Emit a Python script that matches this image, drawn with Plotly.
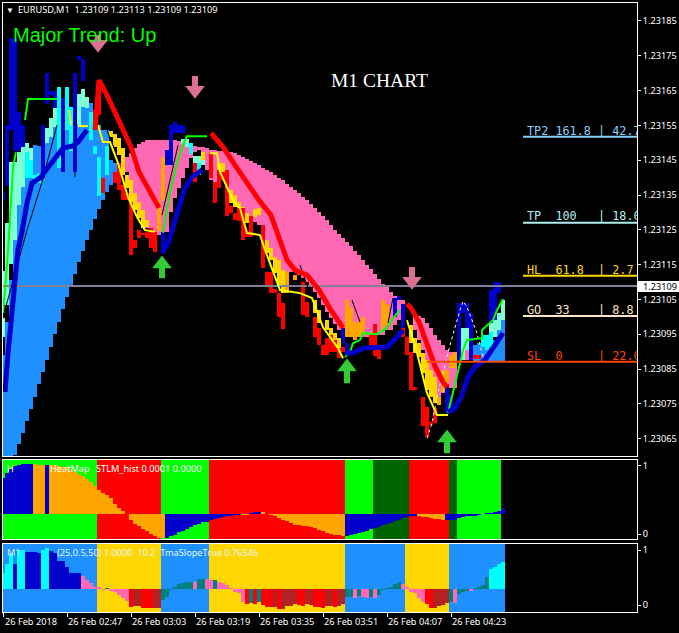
import plotly.graph_objects as go

# ---- main chart: price offsets above 1.23000, in units of 0.00001 ----
base_low = [60.0,60.0,60.0,60.3,63.4,66.6,70.0,73.5,76.9,80.6,84.1,87.5,91.3,95.0,98.5,102.2,105.7,108.8,112.3,115.7,
            118.9,122.0,124.9,128.1,130.9,133.5,135.8,137.9,138.4,None,None,
            141.6,137.9,133.5,130.1,127.2,125.5,124.3,122.0,123.5,122.6,124.3,130.1,134.1,137.0,139.9,142.7,145.6,147.3,147.9,
            145.0,142.1,139.3,138.4,139.3,139.9,139.3,136.4,135.0,133.0,131.5,129.8,127.2,127.2,126.3,123.5,121.2,119.2,116.9,114.8,
            112.8,112.0,112.8,112.8,112.0,111.1,110.0,108.8,107.1,105.4,103.3,101.3,99.6,97.9,96.2,94.4,94.2,94.2,94.2,94.2,
            94.2,94.2,94.2,94.7,94.7,94.7,96.2,96.2,97.6,99.0,100.5,None,None,
            96.2,93.3,90.4,86.1,83.2,80.4,74.6,78.1,79.5,79.5,79.5,87.0,87.5,87.5,None,
            87.0,87.0,87.0,87.0,87.0,87.0,87.0,87.0]
base_high = [89.0,98.5,110.6,122.0,132.1,137.3,139.9,139.9,149.3,149.0,147.9,149.9,151.6,154.5,156.5,158.0,159.4,158.8,157.1,155.1,
             160.3,160.0,161.4,157.1,155.1,153.7,153.7,145.0,144.2,None,None,
             145.9,147.0,148.5,149.6,150.2,150.8,150.8,150.8,150.8,150.8,150.8,150.8,150.8,150.5,150.2,149.9,149.3,149.0,148.8,
             148.8,148.5,147.9,147.9,147.6,147.6,147.3,147.3,147.0,146.5,145.9,145.3,144.7,144.2,143.6,142.7,142.1,141.6,140.7,139.9,
             139.3,138.1,137.3,136.4,135.5,134.4,133.5,132.4,131.2,130.1,128.9,127.8,126.3,124.9,123.7,122.6,121.4,120.3,118.9,117.7,
             116.3,114.8,113.7,112.3,110.8,109.4,108.5,107.1,105.9,104.8,104.8,None,None,
             100.2,100.2,99.6,98.2,96.7,94.7,93.3,91.9,90.4,89.8,89.8,89.0,90.4,90.4,None,
             91.9,92.4,94.7,94.7,93.3,93.3,96.2,99.0]
base_runs = [("dodger",31),("pink",87),("dodger",8)]

aqua_i  = [0,0,1,2,3,4,5,6,7,11,12,13,19,20,21,45,46,48,49,50,115,116,122,123,124,125]
aqua_hi = [113.1,99.6,126.9,144.4,144.4,147.3,148.8,149.9,148.5,154.2,157.1,160.0,164.0,165.5,163.2,151.1,151.1,146.2,146.2,145.0,96.8,96.8,98.2,99.0,101.1,104.8]
aqua_lo = [103.4,94.2,103.4,115.2,122.0,132.1,137.3,147.3,145.0,149.9,151.6,154.5,155.1,160.3,160.0,149.6,148.8,144.2,144.2,143.6,87.6,90.4,95.6,94.2,96.2,99.0]

cyan_i  = [6,7,8,9,14,16,17,22,23,24,26,47,49,120,121,122]
cyan_hi = [147.3,145.0,140.7,141.3,166.0,166.0,160.3,158.8,149.0,145.9,149.0,149.9,144.2,94.7,94.7,95.6]
cyan_lo = [139.9,139.9,138.7,138.4,142.7,153.7,147.6,150.8,146.8,134.7,140.7,146.8,140.7,91.3,90.4,91.3]

gold_i  = [27,28,29,30,31,32,33,34,35,36,50,54,55,56,57,58,59,60,61,63,64,66,67,68,69,70,78,79,81,82,83,84,102,103,104,105,106,107,108]
gold_hi = [153.4,152.5,151.4,148.5,140.7,139.3,135.6,133.0,130.7,127.8,147.3,144.2,144.2,139.3,136.4,135.0,133.0,131.5,129.8,131.0,131.3,122.0,119.8,117.2,116.3,113.4,104.8,101.9,99.0,96.8,95.3,93.9,97.6,93.9,92.4,89.6,87.6,84.7,82.7]
gold_lo = [151.6,148.8,146.5,140.7,137.0,133.0,130.7,128.4,125.5,125.8,145.0,141.3,141.3,134.4,132.7,131.5,130.7,129.8,126.9,128.6,129.2,118.3,116.3,112.6,109.1,106.8,101.1,98.2,96.2,94.2,91.3,89.6,92.4,89.6,88.4,83.8,78.9,76.9,75.2]

orange_i  = [39,40,71,73,86,87,88,89,90,95,96,109,110,111,112,113]
orange_hi = [133.5,145.9,112.9,112.0,104.8,102.5,98.5,98.5,99.9,104.8,103.7,76.9,84.7,84.7,89.0,89.9]
orange_lo = [124.6,133.5,106.8,110.6,94.2,94.2,93.3,94.2,94.7,96.2,97.6,74.6,78.4,81.0,85.3,85.3]

navy_i  = [0,1,2,3,4,5,10,11,12,13,15,18,19,20,40,41,42,43,44,45,85,86,98,99,100,111,112,114,115,116,117,122,123,124]
navy_hi = [135.8,155.1,180.1,180.1,158.8,155.1,155.1,170.0,164.9,164.9,162.9,170.0,174.9,174.1,124.4,147.9,155.1,156.0,155.1,155.1,96.8,92.4,105.4,105.9,103.7,79.8,77.5,103.9,103.9,103.9,101.1,107.7,110.0,110.0]
navy_lo = [133.5,137.6,153.7,147.6,147.6,148.8,139.9,161.1,163.7,160.0,141.6,141.6,173.8,167.8,118.3,143.6,143.6,152.8,152.8,152.8,92.4,89.0,99.9,104.8,96.4,72.3,72.3,87.0,101.1,96.8,87.6,98.2,99.0,106.8]

red_i  = [23,24,25,28,29,30,31,32,33,34,35,36,37,38,48,52,53,54,55,56,57,58,59,60,61,62,65,66,67,68,69,70,75,76,78,79,80,81,82,83,84,85,92,93,94,100,101,102,103,105,106,107,108,111,118,119,125]
red_hi = [159.4,166.6,139.9,141.6,144.2,137.9,135.6,133.0,122.0,124.9,124.1,124.4,125.5,124.4,144.2,147.0,138.7,142.2,141.6,142.2,131.8,129.8,131.3,131.3,124.6,128.9,126.4,112.9,112.9,107.9,106.8,103.9,110.0,104.2,99.9,96.8,91.9,93.9,94.7,93.3,91.0,91.3,94.7,97.9,91.9,96.8,94.2,89.9,79.8,76.9,74.0,69.7,73.8,80.7,89.0,89.0,109.1]
red_lo = [153.7,158.0,135.6,138.4,136.4,133.5,133.5,117.7,119.8,122.6,123.5,122.6,119.8,118.6,138.7,139.9,132.7,137.0,139.3,128.9,129.8,127.8,127.5,122.0,122.9,122.9,114.0,109.1,106.8,106.8,99.9,96.4,100.5,99.9,94.2,91.9,89.0,89.0,89.9,89.9,88.1,89.9,91.9,88.7,87.9,94.2,89.0,78.9,78.9,68.6,65.4,68.9,69.4,79.8,87.9,87.9,108.5]

tma_red_x = [23,24,26,29,32,34,36,38,39,None,52,55,58,61,64,67,69,71,73,76,79,82,85,None,101,102,104,106,108,110,111]
tma_red_y = [153.7,168.0,163.7,156.5,148.8,141.6,137.3,132.7,131.3,None,152.8,148.8,143.6,138.4,133.5,129.2,122.6,116.3,113.4,112.0,107.7,101.9,96.8,None,103.7,102.5,98.5,91.9,85.8,81.2,79.8]
tma_blue_x = [0.5,1,1.25,2,2.5,3.25,3.75,4.75,6,7.25,9.25,11.25,13,15,17.25,18.75,21,None,39.75,41.25,42.5,43.75,45.5,47.25,49.75,None,85.5,87.5,90,94.25,96,98.5,100,None,111.25,113,114.75,116.25,118,120.5,123,125]
tma_blue_y = [78.4,83.8,89.6,98.2,105.7,113.4,119.2,124.4,132.7,138.4,139.9,143.0,145.9,148.5,149.0,150.2,153.7,None,118.3,121.2,125.8,130.7,137.0,140.2,142.2,None,89.6,89.6,91.0,91.0,91.3,94.2,96.2,None,72.6,73.8,77.5,82.7,85.6,87.6,91.9,95.3]
green_x = [0,0.5,1,1.5,2,2.5,3.25,None,5.5,6,6.25,13.5,None,40,41.75,43.5,45.25,46,51,None,85.5,86.75,87.5,89.25,90,93.5,96,97.5,99.25,None,111.25,112.5,113.75,115,116,117.5,119.75,119.75,121.25,122.5,123.5,125]
green_y = [101.1,107.7,114.9,123.5,133.5,143.0,147.3,None,156.5,161.7,162.6,162.6,None,124.1,135.6,144.2,150.2,151.9,151.9,None,88.4,89.9,92.4,93.3,95.3,95.0,96.8,99.6,101.9,None,72.3,78.1,84.7,90.4,93.3,93.6,93.9,96.2,97.6,99.0,101.9,105.1]
yellow_x = [16.5,17,None,18.75,21.25,None,23.75,25,26.75,28.75,31.25,33.5,35.5,38,None,51.75,53.5,54.25,56,57.5,59.25,61,64.25,65.5,69.25,74.25,77.25,80,83.75,85,None,101,103.5,106,108.5,111.25]
yellow_y = [159.4,155.1,None,154.8,154.8,None,155.1,150.2,150.2,144.2,134.4,128.7,124.9,124.4,None,147.0,147.0,141.6,137.3,133.5,131.2,124.1,123.5,119.2,107.7,106.8,105.4,97.0,91.0,88.1,None,99.0,89.6,78.1,71.8,71.8]
black_x = [0,6,9.75,13.5,None,18,18,None,25,29.25,None,39.75,43.75,None,74.25,77.5,None,87.25,89.25,None,96.25,97.5]
black_y = [99.9,124.9,138.7,155.1,None,141.6,140.2,None,156.5,144.2,None,129.2,149.3,None,114.9,104.2,None,104.8,98.5,None,98.2,105.4]
white_x = [106,107.25,108.75,111.75,114.25,115,116,118.5,120]
white_y = [65.1,69.5,78.1,91.9,101.9,104.5,102.8,95.3,88.4]

bid = 108.85
down_i, down_tip, down_top = [23.75,48,102.25], [175.8,162.6,107.7], [181.0,169.2,114.3]
up_i, up_tip, up_bot = [39.75,86,111], [117.7,88.1,67.7], [111.1,80.9,60.8]

fib_names = ["TP2 161.8 | 42.7", "TP  100   | 18.0", "HL  61.8  | 2.7", "GO  33    | 8.8", "SL  0     | 22.0"]
fib_levels = [151.75, 127.04, 111.8, 100.2, 87.1]
fib_text_y = [153.1, 128.7, 113.2, 101.7, 88.5]
fib_start = [130, 130, 130, 130, 106]
fib_colors = ["#87CEFA", "#AFEEEE", "#FFD700", "#FFE4C4", "#FF4500"]

price_ticks = [65,75,85,95,105,115,125,135,145,155,165,175,185]
time_ticks = [0,16,32,48,64,80,96,112]
time_labels = ["26 Feb 2018","26 Feb 02:47","26 Feb 03:03","26 Feb 03:19","26 Feb 03:35","26 Feb 03:51","26 Feb 04:07","26 Feb 04:23"]

# ---- STLM histogram pane ----
heat_runs = [("lime",24),("red",16),("lime",12),("red",34),("lime",7),("dgreen",9),("red",10),("dgreen",2),("lime",11)]
stlm_hist = [108,123,136,143,146,150,151,151,150,148,146,148,148,146,144,142,140,133,126,120,
             113,106,96,85,71,63,58,48,30,18,8,0,-17,-30,-37,-44,-52,-60,-67,-71,
             -71,-71,-67,-62,-55,-50,-44,-39,-32,-29,-24,-24,-19,-14,-12,-10,-7,-5,-3,-2,
             -1,-1,3,5,6,4,0,-3,-7,-12,-17,-22,-27,-32,-34,-37,-37,-40,-42,-47,
             -52,-56,-60,-62,-64,-65,-65,-62,-60,-57,-54,-50,-46,-42,-38,-32,-30,-27,-22,-18,
             -12,-8,-7,-5,-6,-8,-10,-12,-14,-14,-17,-17,-17,-17,-12,-10,-7,-5,-5,-2,
             0,3,3,6,10,18]
stlm_runs = [("navy",8),("orange",3),("navy",1),("orange",29),("navy",19),("orange",2),("navy",3),("orange",21),
             ("navy",18),("orange",7),("navy",15)]

# ---- Stoch / TMA slope pane ----
slope_runs = [("dodger",24),("gold",16),("dodger",12),("gold",34),("dodger",15),("gold",11),("dodger",14)]
slope_hist = [49,75,107,75,117,117,112,110,110,109,117,122,114,109,84,84,65,49,49,49,
              39,27,19,7,4,-3,3,-4,-8,-18,-26,-36,-53,-50,-50,-56,-56,-56,-56,-56,
              -32,-23,-3,7,14,17,20,22,22,29,29,30,27,26,20,17,12,2,-8,-13,
              -38,-45,-43,-45,-38,-48,-53,-53,-55,-60,-60,-51,-51,-45,-48,-50,-45,-48,-53,-55,
              -56,-50,-50,-53,-51,-45,-23,-23,-26,-21,-23,-26,-23,-26,-18,-3,1,4,15,22,
              14,7,-10,-13,-26,-39,-46,-56,-56,-51,-48,-43,-38,-41,-15,-10,-6,-6,2,4,
              12,37,60,67,75,82]
slope_codes = "ccc n cc nnnn cc nnnnnnnn pppppp t ppppp r bb rrr bb tttttttt p tt pp t ppppppp r t r t rrr b r bbbb rr bb rrr bb r bb tt p t pp t p tttttt pppppp rr bbbb t p ttt p tttt cccc".replace(" ", "")

# ---- styles ----
COL = dict(dodger="#1E90FF", pink="#FF69B4", aqua="#7FFFD4", cyan="#00FFFF", gold="#FFD700", orange="#FFA500",
           navy="#0000CD", red="#FF0000", lime="#00FF00", dgreen="#006400", teal="#008080", brown="#B22222")
CODE = dict(c="cyan", n="navy", p="pink", t="teal", r="red", b="brown")
SANS = "Noto Sans"
FS = 9.2
W, H = 679, 633
ML, MR, MT, MB = 3, 42, 3, 21
PH = H - MT - MB
def dom(top, bottom):
    return [(H - MB - bottom) / PH, (H - MB - top) / PH]
def runs(r):
    out = []
    for name, n in r:
        out += [COL[name]] * n
    return out

fig = go.Figure()
def bars(x, hi, lo, color, ax="", yax=""):
    xs, ys, bs, cs = [], [], [], []
    for k, (a, h, l) in enumerate(zip(x, hi, lo)):
        if h is None or l is None:
            continue
        xs.append(a); ys.append(h - l); bs.append(l)
        cs.append(color[k] if isinstance(color, list) else color)
    fig.add_trace(go.Bar(x=xs, y=ys, base=bs, width=1, marker=dict(color=cs, line=dict(width=0)),
                         xaxis="x" + ax, yaxis="y" + yax, hoverinfo="skip"))
def line(x, y, color, width, dash="solid"):
    fig.add_trace(go.Scatter(x=x, y=y, mode="lines", line=dict(color=color, width=width, dash=dash),
                             connectgaps=False, hoverinfo="skip"))

# main pane
line([0, 158.5], [bid, bid], "#7F7F9A", 2)
bars(list(range(126)), base_high, base_low, runs(base_runs))
bars(aqua_i, aqua_hi, aqua_lo, COL["aqua"])
bars(cyan_i, cyan_hi, cyan_lo, COL["cyan"])
bars(gold_i, gold_hi, gold_lo, COL["gold"])
bars(orange_i, orange_hi, orange_lo, COL["orange"])
bars(navy_i, navy_hi, navy_lo, COL["navy"])
bars(red_i, red_hi, red_lo, COL["red"])
line(black_x, black_y, "#000000", 1)
line(white_x, white_y, "#FFFFFF", 1, "dot")
line(yellow_x, yellow_y, "#FFFF00", 2)
line(green_x, green_y, "#00FF00", 2)
line(tma_blue_x, tma_blue_y, COL["navy"], 5)
line(tma_red_x, tma_red_y, COL["red"], 5)
for a, s, c in zip(fib_start, fib_levels, fib_colors):
    line([a, 158.5], [s, s], c, 2)
fig.add_trace(go.Scatter(x=[131] * 5, y=fib_text_y, text=fib_names, mode="text",
                         textposition="middle right", cliponaxis=True,
                         textfont=dict(family="DejaVu Sans Mono", size=11.8, color=fib_colors), hoverinfo="skip"))
# arrows: a shaft and a head
ax = []; ay = []
for i, t, o in zip(down_i, down_tip, down_top):
    ax += [i, i, None]; ay += [o, t + 3, None]
line(ax, ay, "#DB7093", 6)
ax = []; ay = []
for i, t, o in zip(up_i, up_tip, up_bot):
    ax += [i, i, None]; ay += [o, t - 3, None]
line(ax, ay, "#32CD32", 6)
fig.add_trace(go.Scatter(x=down_i, y=[t + 2.5 for t in down_tip], mode="markers",
                         marker=dict(symbol="triangle-down", size=17, color="#DB7093", line=dict(width=0)), hoverinfo="skip"))
fig.add_trace(go.Scatter(x=up_i, y=[t - 2.5 for t in up_tip], mode="markers",
                         marker=dict(symbol="triangle-up", size=17, color="#32CD32", line=dict(width=0)), hoverinfo="skip"))

# STLM pane
P2TOP, P2BOT, P2ZERO = 1.088, -0.0735, 0.294
heat = runs(heat_runs)
bars(list(range(len(heat))), [P2TOP] * len(heat), [P2BOT] * len(heat), heat, "2", "2")
stlm_y = [P2ZERO + v / 204 for v in stlm_hist]
bars(list(range(126)), [max(v, P2ZERO) for v in stlm_y], [min(v, P2ZERO) for v in stlm_y], runs(stlm_runs), "2", "2")

# slope pane
P3TOP, P3BOT, P3ZERO = 1.109, -0.127, 0.291
bg = runs(slope_runs)
bars(list(range(len(bg))), [P3TOP] * len(bg), [P3BOT] * len(bg), bg, "3", "3")
slope_y = [P3ZERO + v / 165 for v in slope_hist]
bars(list(range(126)), [max(v, P3ZERO) for v in slope_y], [min(v, P3ZERO) for v in slope_y],
     [COL[CODE[c]] for c in slope_codes], "3", "3")

ann = []
def label(text, x, y, size=FS, color="#FFFFFF", family=SANS, anchor="left", **kw):
    ann.append(dict(text=text, x=(x - ML) / (W - ML - MR), y=(H - MB - y) / PH, xref="paper", yref="paper",
                    xanchor=anchor, yanchor="middle", showarrow=False,
                    font=dict(family=family, size=size, color=color), **kw))
label("▼", 4, 10, 8)
label("EURUSD,M1  1.23109 1.23113 1.23109 1.23109", 16, 10)
label("Major Trend: Up", 11, 34.5, 20, "#00FF00", "Liberation Sans")
label("M1 CHART", 329, 81, 19.5, "#FFFFFF", "Liberation Serif")
label("H", 5, 468)
label("HeatMap", 48, 468)
label("STLM_hist 0.0001 0.0000", 94, 468)
label("M1", 5, 552, FS, "#DDEEFF")
label("(25,0.5,50) 1.0000  10.2  TmaSlopeTrue 0.76546", 55, 552, FS, "#E8F4FF")
label("1.23109", 641, 286, FS, "#000000", SANS)
for t, s in zip(time_ticks, time_labels):
    label(s, 3 + 4 * t - (1 if t else 0), 621)

axis = dict(showgrid=False, zeroline=False, showline=True, linecolor="#FFFFFF", linewidth=1, mirror=True,
            color="#FFFFFF", fixedrange=True, automargin=False)
xa = dict(axis, range=[0, 158.5], domain=[0, 1], showticklabels=False, ticks="")
ya = dict(axis, side="right", ticks="outside", ticklen=3, tickcolor="#FFFFFF", tickwidth=1,
          tickfont=dict(family=SANS, size=FS, color="#FFFFFF"))
# white box behind the current price label
bid_box = dict(type="rect", xref="paper", yref="paper", layer="below", line=dict(width=0), fillcolor="#FFFFFF",
               x0=(638 - ML) / (W - ML - MR), x1=(679 - ML) / (W - ML - MR),
               y0=(H - MB - 292) / PH, y1=(H - MB - 281) / PH)
fig.update_layout(
    width=W, height=H, margin=dict(l=ML, r=MR, t=MT, b=MB, autoexpand=False), paper_bgcolor="#000000", plot_bgcolor="#000000",
    showlegend=False, barmode="overlay", bargap=0, annotations=ann, shapes=[bid_box],
    xaxis=dict(xa, anchor="y"),
    xaxis2=dict(xa, anchor="y2"),
    xaxis3=dict(xa, anchor="y3", ticks="outside", ticklen=4, tickcolor="#FFFFFF", tickvals=time_ticks),
    yaxis=dict(ya, domain=dom(3, 456), anchor="x", range=[60.0, 190.17], tickvals=price_ticks,
               ticktext=[f"{1.23 + v / 1e5:.5f}" for v in price_ticks]),
    yaxis2=dict(ya, domain=dom(460, 539), anchor="x2", range=[P2BOT, P2TOP], tickvals=[0, 1], ticktext=["0", "1"]),
    yaxis3=dict(ya, domain=dom(544, 612), anchor="x3", range=[P3BOT, P3TOP], tickvals=[0, 1], ticktext=["0", "1"]),
)
fig.write_html("out.html", config={"displayModeBar": False},
               post_script="document.body.style.margin='0';document.documentElement.style.background='#000';window.dispatchEvent(new Event('resize'));")
